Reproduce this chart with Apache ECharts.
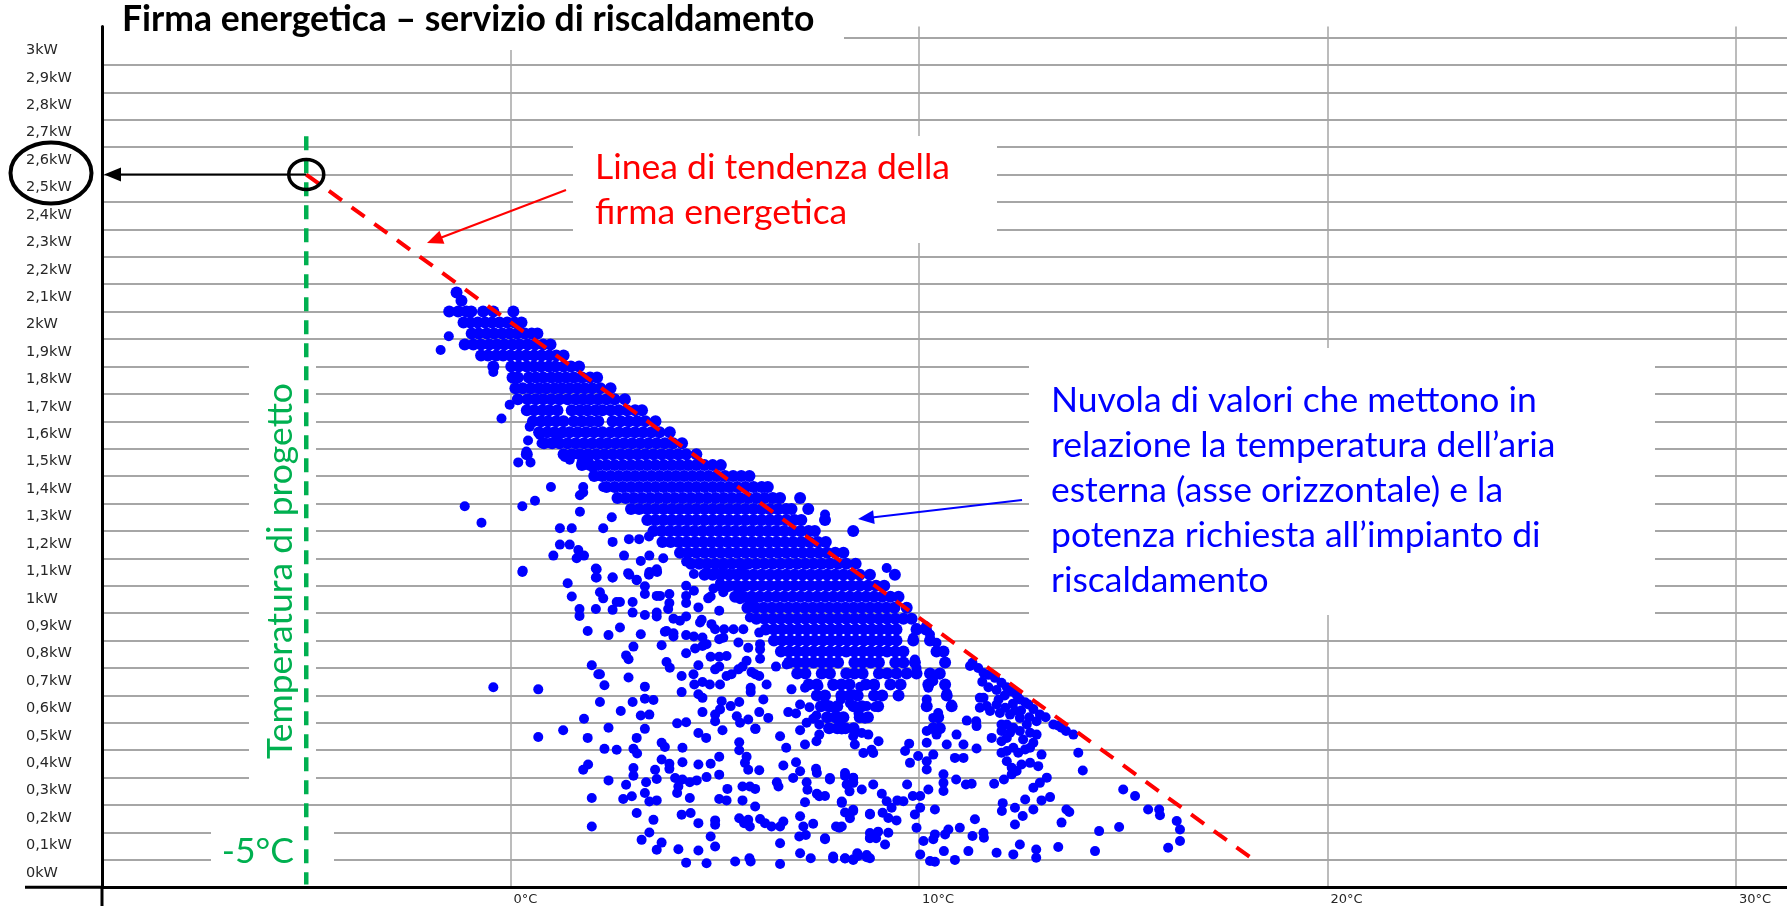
<!DOCTYPE html>
<html>
<head>
<meta charset="utf-8">
<title>Firma energetica – servizio di riscaldamento</title>
<script src="https://cdn.jsdelivr.net/npm/echarts@6/dist/echarts.min.js"></script>
<style>
  html, body { margin: 0; padding: 0; background: #fff; }
  #chart { width: 1787px; height: 906px; }
</style>
</head>
<body>
<div id="chart"></div>
<script>
// ---- tick labels ----
const powerTickLabels = ['0kW', '0,1kW', '0,2kW', '0,3kW', '0,4kW', '0,5kW', '0,6kW', '0,7kW', '0,8kW', '0,9kW',
  '1kW', '1,1kW', '1,2kW', '1,3kW', '1,4kW', '1,5kW', '1,6kW', '1,7kW', '1,8kW', '1,9kW',
  '2kW', '2,1kW', '2,2kW', '2,3kW', '2,4kW', '2,5kW', '2,6kW', '2,7kW', '2,8kW', '2,9kW', '3kW'];
const tempTickValues = [0, 10, 20, 30];
const tempTickLabels = ['0°C', '10°C', '20°C', '30°C'];

// ---- reference lines (temperature °C, power kW) ----
const trendLine = [[-5, 2.5], [18.2, 0.0]];
const designTempLine = [[-5, 2.64], [-5, -0.09]];
const designPoint = [-5, 2.5];

// ---- measured points: dense band, one row per power level [kW, temperatures] ----
const bandRows = [
  [2.07, [-1.32]],
  [2.04, [-1.2]],
  [2.00, [-1.5, -1.28, -1.08, -0.96, -0.67, -0.42, 0.07]],
  [1.96, [-1.15, -0.98, -0.8, -0.62, -0.45, -0.27, -0.08, 0.1, 0.27]],
  [1.92, [-0.95, -0.78, -0.58, -0.4, -0.2, -0.02, 0.16, 0.35, 0.52, 0.66]],
  [1.88, [-1.12, -0.91, -0.72, -0.52, -0.33, -0.15, 0.05, 0.22, 0.42, 0.6, 0.8, 0.98]],
  [1.84, [-0.72, -0.55, -0.35, -0.18, 0.0, 0.2, 0.38, 0.58, 0.76, 0.95, 1.12, 1.3]],
  [1.80, [-0.42, 0.02, 0.2, 0.4, 0.57, 0.75, 0.94, 1.1, 1.3, 1.48, 1.68]],
  [1.76, [0.05, 0.18, 0.45, 0.62, 0.8, 1.0, 1.18, 1.36, 1.55, 1.75, 1.95, 2.12]],
  [1.72, [0.12, 0.3, 0.5, 0.7, 0.88, 1.08, 1.26, 1.45, 1.64, 1.82, 2.0, 2.2, 2.45]],
  [1.68, [0.18, 0.42, 0.62, 0.8, 1.0, 1.2, 1.4, 1.6, 1.78, 1.96, 2.15, 2.35, 2.55, 2.8]],
  [1.64, [0.4, 0.58, 0.78, 0.95, 1.15, 1.5, 1.7, 1.88, 2.08, 2.25, 2.45, 2.65, 2.85, 3.05, 3.22]],
  [1.60, [0.55, 0.75, 0.92, 1.12, 1.3, 1.55, 1.75, 1.95, 2.15, 2.5, 2.7, 2.9, 3.1, 3.3, 3.55]],
  [1.56, [0.7, 0.9, 1.08, 1.28, 1.45, 1.65, 1.85, 2.05, 2.25, 2.45, 2.65, 2.85, 3.05, 3.25, 3.45, 3.65, 3.9]],
  [1.52, [0.82, 1.02, 1.2, 1.4, 1.6, 1.8, 2.0, 2.2, 2.38, 2.58, 2.78, 2.98, 3.18, 3.38, 3.58, 3.78, 3.98, 4.2]],
  [1.48, [0.4, 1.3, 1.5, 1.7, 1.9, 2.1, 2.3, 2.5, 2.7, 2.9, 3.1, 3.3, 3.5, 3.7, 3.9, 4.1, 4.3, 4.55]],
  [1.44, [1.75, 1.95, 2.15, 2.35, 2.55, 2.75, 2.95, 3.15, 3.35, 3.55, 3.75, 3.95, 4.15, 4.35, 4.55, 4.75, 4.95, 5.15]],
  [1.40, [2.05, 2.25, 2.45, 2.65, 2.85, 3.05, 3.25, 3.45, 3.65, 3.85, 4.05, 4.25, 4.45, 4.65, 4.85, 5.05, 5.25, 5.45, 5.65, 5.85]],
  [1.36, [2.35, 2.55, 2.75, 2.95, 3.15, 3.35, 3.55, 3.75, 3.95, 4.15, 4.35, 4.55, 4.75, 4.95, 5.15, 5.35, 5.55, 5.75, 5.95, 6.15, 6.3]],
  [1.32, [2.62, 2.82, 3.02, 3.22, 3.42, 3.62, 3.82, 4.02, 4.22, 4.42, 4.62, 4.82, 5.02, 5.22, 5.42, 5.62, 5.82, 6.02, 6.22, 6.42, 6.6, 7.09]],
  [1.28, [2.95, 3.15, 3.35, 3.55, 3.75, 3.95, 4.15, 4.35, 4.55, 4.75, 4.95, 5.15, 5.35, 5.55, 5.75, 5.95, 6.15, 6.35, 6.55, 6.75, 6.88, 7.29]],
  [1.24, [3.35, 3.55, 3.75, 3.95, 4.15, 4.35, 4.55, 4.75, 4.95, 5.15, 5.35, 5.55, 5.75, 5.95, 6.15, 6.35, 6.55, 6.75, 6.95, 7.12, 7.7]],
  [1.20, [3.5, 3.7, 3.9, 4.1, 4.3, 4.5, 4.7, 4.9, 5.1, 5.3, 5.5, 5.7, 5.9, 6.1, 6.3, 6.5, 6.7, 6.9, 7.1, 7.3, 7.45, 8.39]],
  [1.16, [3.72, 3.92, 4.12, 4.32, 4.52, 4.72, 4.92, 5.12, 5.32, 5.52, 5.72, 5.92, 6.12, 6.32, 6.52, 6.72, 6.92, 7.12, 7.32, 7.52, 7.72]],
  [1.12, [4.15, 4.35, 4.55, 4.75, 4.95, 5.15, 5.35, 5.55, 5.75, 5.95, 6.15, 6.35, 6.55, 6.75, 6.95, 7.15, 7.35, 7.55, 7.75, 7.95, 8.15]],
  [1.08, [4.42, 4.62, 4.82, 5.02, 5.22, 5.42, 5.62, 5.82, 6.02, 6.22, 6.42, 6.62, 6.82, 7.02, 7.22, 7.42, 7.62, 7.82, 8.02, 8.22, 8.45]],
  [1.04, [4.75, 4.95, 5.15, 5.35, 5.55, 5.75, 5.95, 6.15, 6.35, 6.55, 6.75, 6.95, 7.15, 7.35, 7.55, 7.75, 7.95, 8.15, 8.35, 8.55, 8.8, 9.41]],
  [1.00, [5.15, 5.35, 5.55, 5.75, 5.95, 6.15, 6.35, 6.55, 6.75, 6.95, 7.15, 7.35, 7.55, 7.75, 7.95, 8.15, 8.35, 8.55, 8.75, 8.95, 9.15]],
  [0.96, [5.5, 5.7, 5.9, 6.1, 6.3, 6.5, 6.7, 6.9, 7.1, 7.3, 7.5, 7.7, 7.9, 8.1, 8.3, 8.5, 8.7, 8.9, 9.1, 9.3, 9.5]],
  [0.92, [5.8, 6.0, 6.2, 6.4, 6.6, 6.8, 7.0, 7.2, 7.4, 7.6, 7.8, 8.0, 8.2, 8.4, 8.6, 8.8, 9.0, 9.2, 9.4, 9.7]],
  [0.88, [6.02, 6.22, 6.42, 6.62, 6.82, 7.02, 7.22, 7.42, 7.62, 7.82, 8.02, 8.22, 8.42, 8.62, 8.82, 9.02, 9.22, 9.42, 9.62, 9.82]],
  [0.84, [6.25, 6.45, 6.65, 6.85, 7.05, 7.25, 7.45, 7.65, 7.85, 8.05, 8.25, 8.45, 8.65, 8.85, 9.05, 9.25, 9.45, 9.94, 10.17]],
  [0.80, [6.45, 6.65, 6.85, 7.05, 7.25, 7.45, 7.65, 7.85, 8.05, 8.25, 8.45, 8.65, 8.85, 9.05, 9.25, 9.45, 9.86, 10.27]],
  [0.76, [6.62, 6.82, 7.02, 7.22, 7.42, 7.62, 7.82, 8.02, 8.22, 8.42, 8.62, 8.82, 9.02, 9.22, 9.42, 9.62, 10.43, 10.6]],
  [0.72, [6.82, 7.02, 7.22, 7.42, 7.62, 7.82, 8.02, 8.42, 8.62, 8.82, 9.02, 9.42, 9.62, 9.9, 10.64]],
  [0.68, [7.02, 7.22, 7.62, 7.82, 8.22, 8.42, 8.62, 9.02, 9.22, 9.45, 9.7, 9.94, 10.27, 10.51]],
  [0.64, [7.3, 7.5, 7.9, 8.1, 8.3, 8.7, 8.9, 9.3, 9.55, 10.23, 10.64]],
  [0.60, [7.5, 7.7, 8.1, 8.3, 8.5, 8.9, 9.1, 9.5, 10.68]],
  [0.56, [7.6, 7.8, 8.0, 8.4, 8.6, 9.0, 10.19, 10.8]],
  [0.52, [7.75, 7.95, 8.15, 8.55, 8.75, 10.47]],
  [0.48, [7.8, 8.0, 8.2, 8.4, 10.35, 10.51]]
];

// ---- measured points: scattered values, [temperature, kW] ----
const cloudCold = [
  [-1.51, 1.91], [-1.71, 1.86], [-0.42, 1.78], [-0.22, 1.61], [-0.02, 1.66], [-1.12, 1.29], [-0.71, 1.23],
  [0.29, 1.29], [0.6, 1.31], [0.99, 1.36], [0.19, 1.45], [0.49, 1.45], [0.39, 1.49], [0.29, 1.05], [-0.42, 0.63],
  [1.7, 1.27], [1.21, 1.21], [1.5, 1.21], [1.05, 1.11], [1.21, 1.15], [1.45, 1.15], [1.66, 1.13], [1.62, 1.10],
  [1.8, 1.11], [2.11, 1.06], [2.11, 1.03], [2.5, 1.16], [2.5, 1.03], [2.78, 1.11], [2.9, 1.17], [3.09, 1.02],
  [3.19, 1.09], [3.4, 1.11], [3.59, 1.05], [3.74, 1.10], [3.39, 1.18], [3.15, 1.17], [3.39, 1.04], [2.91, 1.04],
  [2.48, 1.25], [2.27, 1.21], [2.19, 1.40], [2.27, 1.36], [1.78, 1.36], [1.78, 1.34], [1.7, 1.33], [0.47, 1.58],
  [0.72, 1.55], [0.43, 1.53], [0.76, 1.52], [1.13, 1.54], [1.45, 1.46], [1.33, 1.47], [1.62, 1.48], [1.74, 1.45],
  [1.9, 1.46], [2.02, 1.43], [0.92, 1.52]
];

const cloudMild = [
  [0.30, 1.055], [2.09, 1.063], [2.09, 1.03], [2.50, 1.03], [2.88, 1.046], [3.09, 1.022], [3.40, 1.05], [3.58, 1.06],
  [1.40, 1.009], [4.30, 1.088], [4.49, 1.043], [4.80, 1.05], [5.01, 1.05], [5.21, 1.07], [5.46, 1.043], [5.66, 1.07],
  [1.50, 0.961], [2.19, 0.976], [2.27, 0.954], [2.60, 0.941], [2.68, 0.941], [2.99, 0.941], [3.29, 0.998], [3.29, 0.97],
  [3.58, 0.963], [3.66, 0.963], [3.89, 0.97], [3.89, 0.937], [4.30, 1.0], [4.30, 0.963], [4.30, 0.937], [4.49, 0.982],
  [4.84, 0.954], [4.90, 0.961], [4.60, 0.921], [4.97, 0.99], [5.13, 1.01], [5.21, 0.976], [5.29, 0.994], [5.46, 1.0],
  [5.58, 0.99], [5.62, 0.951], [5.82, 0.951], [5.82, 0.921], [5.11, 0.909], [1.69, 0.915], [1.69, 0.89], [2.09, 0.915],
  [2.50, 0.912], [2.99, 0.902], [3.29, 0.893], [3.58, 0.902], [3.58, 0.888], [3.86, 0.915], [3.99, 0.88], [4.15, 0.872],
  [4.30, 0.888], [4.68, 0.876], [4.64, 0.866], [4.92, 0.86], [5.01, 0.841], [5.23, 0.841], [5.21, 0.81], [5.11, 0.805],
  [5.46, 0.841], [5.70, 0.841], [5.86, 0.884], [5.94, 0.933],
  [1.89, 0.835], [2.40, 0.82], [2.68, 0.848], [3.19, 0.823], [3.78, 0.832], [3.99, 0.827], [3.99, 0.815], [4.30, 0.82],
  [4.49, 0.815], [4.70, 0.811], [4.70, 0.78], [4.80, 0.787], [4.52, 0.771], [4.30, 0.754], [3.82, 0.835], [3.70, 0.783],
  [3.01, 0.778], [2.83, 0.746], [2.89, 0.732], [5.58, 0.793], [5.82, 0.774], [6.11, 0.768], [6.09, 0.829], [6.11, 0.787],
  [1.99, 0.71], [2.15, 0.677], [2.19, 0.677], [2.30, 0.637], [2.89, 0.665], [3.29, 0.632], [3.82, 0.722], [3.90, 0.701],
  [4.19, 0.671], [4.48, 0.677], [4.60, 0.71], [4.70, 0.649], [4.90, 0.741], [5.11, 0.741], [5.29, 0.744], [5.11, 0.705],
  [5.01, 0.695], [5.29, 0.671], [5.41, 0.677], [5.58, 0.695], [5.68, 0.705], [5.78, 0.726], [5.90, 0.685], [5.99, 0.677],
  [6.09, 0.671], [6.27, 0.64], [5.88, 0.628], [5.88, 0.612], [5.13, 0.64], [4.88, 0.64], [4.50, 0.64], [6.11, 0.734],
  [6.50, 0.705], [6.76, 0.713],
  [0.68, 0.622], [2.19, 0.576], [2.99, 0.576], [3.29, 0.588], [3.50, 0.583], [4.19, 0.612], [4.60, 0.604], [4.70, 0.591],
  [4.70, 0.539], [5.17, 0.579], [5.39, 0.561], [5.60, 0.576], [5.13, 0.549], [5.01, 0.53], [5.01, 0.506], [5.54, 0.524],
  [5.62, 0.5], [5.82, 0.512], [6.00, 0.478], [6.09, 0.539], [6.19, 0.585], [6.31, 0.518], [6.88, 0.622], [7.21, 0.628],
  [6.80, 0.539], [6.99, 0.534], [7.09, 0.567], [7.32, 0.557], [7.25, 0.5], [7.41, 0.515], [7.49, 0.527], [7.56, 0.494],
  [7.70, 0.571], [7.90, 0.555], [8.00, 0.524], [8.07, 0.5], [8.11, 0.476], [8.09, 0.585], [8.31, 0.571], [8.39, 0.604],
  [8.52, 0.534], [8.72, 0.561], [8.68, 0.515], [8.92, 0.558], [8.92, 0.634], [8.56, 0.632], [7.90, 0.634], [7.54, 0.634],
  [1.80, 0.515], [1.29, 0.473], [0.68, 0.448], [1.89, 0.445], [2.40, 0.482], [2.70, 0.543], [3.19, 0.527], [3.40, 0.53],
  [3.29, 0.478], [3.09, 0.445], [4.08, 0.498], [4.30, 0.502], [4.60, 0.463], [4.79, 0.445], [5.19, 0.473], [5.60, 0.429],
  [5.60, 0.4], [5.99, 0.478], [6.60, 0.451], [6.75, 0.409], [7.09, 0.473], [7.21, 0.421], [7.49, 0.433], [7.56, 0.457],
  [8.39, 0.451], [8.43, 0.421], [8.60, 0.463], [8.76, 0.457], [8.84, 0.402], [8.88, 0.39], [9.01, 0.433], [8.64, 0.39],
  [2.30, 0.405], [2.60, 0.402], [3.01, 0.405], [3.10, 0.388], [3.70, 0.427], [3.78, 0.412], [4.21, 0.409], [5.11, 0.376],
  [5.78, 0.376], [5.74, 0.354], [5.82, 0.329], [6.09, 0.327], [6.68, 0.344], [6.99, 0.356], [7.09, 0.323], [7.48, 0.332],
  [7.50, 0.317], [8.19, 0.317], [8.39, 0.299], [8.39, 0.283],
  [1.78, 0.329], [1.90, 0.348], [2.40, 0.29], [2.83, 0.274], [3.01, 0.335], [3.01, 0.307], [3.32, 0.283], [3.58, 0.295],
  [3.70, 0.366], [3.54, 0.329], [3.89, 0.351], [3.89, 0.332], [4.03, 0.299], [4.21, 0.356], [4.21, 0.293], [4.11, 0.268],
  [4.39, 0.283], [4.56, 0.29], [4.60, 0.348], [4.80, 0.302], [4.90, 0.351], [5.11, 0.311], [5.31, 0.259], [5.68, 0.268],
  [5.86, 0.268], [5.99, 0.259], [6.52, 0.283], [6.56, 0.268], [6.92, 0.299], [7.25, 0.283], [7.27, 0.256], [7.50, 0.241],
  [7.56, 0.232], [7.82, 0.299],
  [1.99, 0.226], [2.76, 0.222], [2.97, 0.232], [3.29, 0.244], [3.40, 0.213], [3.58, 0.217], [4.08, 0.244], [4.39, 0.226],
  [5.11, 0.222], [5.29, 0.217], [5.68, 0.217], [5.99, 0.195], [7.21, 0.21], [8.11, 0.213], [8.30, 0.25],
  [1.99, 0.122], [3.09, 0.171], [3.50, 0.146], [4.19, 0.165], [4.41, 0.171], [4.60, 0.134], [5.01, 0.144], [5.01, 0.128],
  [5.60, 0.152], [5.72, 0.134], [5.82, 0.146], [5.86, 0.122], [6.11, 0.149], [6.23, 0.134], [6.39, 0.122], [6.60, 0.122],
  [6.68, 0.14], [7.09, 0.159], [7.17, 0.122], [7.07, 0.085], [7.23, 0.091], [7.41, 0.132], [7.97, 0.122], [8.11, 0.122],
  [8.19, 0.173], [8.31, 0.152], [8.39, 0.183], [8.80, 0.168], [8.80, 0.098], [8.80, 0.079],
  [3.40, 0.1], [3.21, 0.073], [3.70, 0.063], [3.58, 0.037], [4.11, 0.039], [4.60, 0.034], [4.30, -0.01], [4.80, -0.012],
  [4.90, 0.085], [5.01, 0.049], [5.50, -0.006], [5.85, 0.006], [5.88, -0.006], [6.60, 0.061], [6.60, -0.015], [7.09, 0.024],
  [7.35, 0.006], [7.70, 0.079], [7.90, 0.012], [8.19, 0.006], [8.39, 0.002], [8.49, 0.024], [8.72, 0.018], [8.80, 0.006],
  [8.95, 0.079]
];

const cloudWarm = [
  [7.70, 1.26], [9.21, 1.065], [9.70, 0.922], [9.94, 0.846], [9.86, 0.81], [10.6, 0.759], [10.43, 0.792], [10.27, 0.822],
  [10.17, 0.852], [11.25, 0.707], [11.31, 0.719], [11.58, 0.682], [11.86, 0.664], [12.02, 0.646], [12.29, 0.613],
  [12.47, 0.585], [12.68, 0.567], [12.96, 0.53], [13.29, 0.494], [13.49, 0.482], [13.78, 0.457], [13.90, 0.391],
  [14.01, 0.326], [15.0, 0.257], [15.29, 0.233], [15.61, 0.184], [15.88, 0.184], [15.90, 0.163], [16.31, 0.142],
  [16.39, 0.111], [16.39, 0.069], [16.10, 0.044], [14.90, 0.12], [14.41, 0.105], [14.31, 0.032], [13.41, 0.047],
  [13.49, 0.136], [13.61, 0.184], [13.68, 0.175], [13.21, 0.229], [13.00, 0.217], [13.13, 0.30], [12.96, 0.281],
  [12.80, 0.263], [12.80, 0.184], [12.60, 0.22], [12.54, 0.16], [12.35, 0.19], [12.35, 0.129], [12.47, 0.056],
  [12.31, 0.02], [12.87, 0.038], [12.87, 0.008], [12.05, 0.207], [12.03, 0.178], [11.84, 0.278], [12.08, 0.293],
  [11.90, 0.026], [11.59, 0.081], [11.58, 0.099], [11.37, 0.148], [11.31, 0.087], [11.21, 0.032], [11.00, 0.117],
  [10.88, 0.0], [10.72, 0.111], [10.64, 0.093], [10.61, 0.032], [10.39, 0.093], [10.35, 0.075], [10.11, 0.069],
  [10.03, 0.02], [10.27, -0.004], [10.39, -0.007], [9.94, 0.117], [9.90, 0.166], [10.03, 0.19], [10.39, 0.184],
  [10.91, 0.293], [11.15, 0.275], [11.29, 0.278], [10.60, 0.312], [10.60, 0.281], [10.60, 0.251], [10.23, 0.257],
  [10.03, 0.233], [9.85, 0.233], [9.71, 0.275], [9.62, 0.214], [9.47, 0.217], [9.33, 0.19], [9.21, 0.214], [9.09, 0.241],
  [9.25, 0.153], [9.45, 0.144], [9.25, 0.099], [9.17, 0.056], [9.00, 0.103], [8.80, 0.166], [8.80, 0.081], [8.60, 0.257],
  [8.39, 0.30], [8.39, 0.281], [8.23, 0.275], [8.19, 0.306], [8.30, 0.166], [8.39, 0.178], [8.11, 0.208], [8.05, 0.117],
  [7.90, 0.005], [8.19, 0.005], [8.39, 0.0], [8.51, 0.014], [8.72, 0.01], [7.70, 0.075], [7.70, 0.233], [7.82, 0.293],
  [8.88, 0.275], [9.11, 0.172],
  [9.66, 0.397], [9.76, 0.424], [9.78, 0.354], [9.98, 0.379], [10.19, 0.36], [10.19, 0.47], [10.19, 0.427], [10.19, 0.33],
  [10.35, 0.384], [10.43, 0.457], [10.51, 0.482], [10.68, 0.421], [10.88, 0.372], [11.09, 0.372], [11.09, 0.421],
  [10.92, 0.457], [10.80, 0.567], [10.47, 0.536], [10.35, 0.518], [10.19, 0.585], [10.23, 0.628], [10.35, 0.652],
  [10.27, 0.676], [10.51, 0.676], [10.64, 0.634], [10.68, 0.609], [9.94, 0.70], [9.90, 0.731],
  [11.40, 0.506], [11.41, 0.406], [11.78, 0.445], [11.17, 0.508], [11.49, 0.591], [11.66, 0.561], [11.74, 0.543],
  [11.90, 0.567], [11.98, 0.536], [12.11, 0.555], [12.15, 0.494], [12.02, 0.47], [12.23, 0.464], [12.31, 0.482],
  [12.47, 0.47], [12.55, 0.439], [12.72, 0.464], [12.80, 0.427], [12.88, 0.457], [12.64, 0.494], [12.47, 0.518],
  [12.23, 0.53], [12.02, 0.494], [12.02, 0.433], [12.02, 0.391], [12.15, 0.397], [12.31, 0.409], [12.43, 0.391],
  [12.60, 0.403], [12.72, 0.409], [12.15, 0.36], [12.27, 0.336], [12.39, 0.324], [12.51, 0.348], [12.72, 0.354],
  [13.00, 0.384], [12.92, 0.342], [12.27, 0.312], [12.15, 0.445], [12.88, 0.506], [11.58, 0.591], [11.49, 0.555],
  [11.41, 0.488],
  [11.45, 0.70], [11.7, 0.675], [12.15, 0.63], [12.4, 0.60], [12.6, 0.575], [12.8, 0.55], [13.1, 0.52], [13.4, 0.49],
  [13.6, 0.47], [11.9, 0.62], [12.1, 0.60], [12.3, 0.57], [12.5, 0.545], [12.7, 0.52], [11.7, 0.63], [11.55, 0.65],
  [11.95, 0.585], [12.35, 0.545]
];

// ---- styling ----
const BLUE = '#0000ff';
const RED = '#ff0000';
const GREEN = '#00b050';
const GRID_GREY = '#a6a6a6';
const LABEL_FONT = 'DejaVu Sans';
const NOTE_FONT = 'Lato';
const NOTE_SIZE = 35.5;

const bandData = [];
bandRows.forEach(([kw, temps]) => temps.forEach(t => bandData.push([t, kw])));
const cloudData = [...cloudCold, ...cloudMild, ...cloudWarm];

function powerLabel(v) {
  const i = Math.round(v * 10);
  if (Math.abs(v * 10 - i) > 1e-6 || i < 0 || i >= powerTickLabels.length) return '';
  return powerTickLabels[i];
}
function tempLabel(v) {
  const i = tempTickValues.indexOf(Math.round(v * 100) / 100);
  return i >= 0 ? tempTickLabels[i] : '';
}

const chart = echarts.init(document.getElementById('chart'), null, { renderer: 'canvas' });

chart.setOption({
  animation: false,
  backgroundColor: '#ffffff',
  grid: { left: 102, right: 0, top: 26.5, bottom: 18.7, containLabel: false, outerBoundsMode: 'none' },
  xAxis: {
    type: 'value', min: -10, max: 31.25, interval: 10,
    axisLine: { show: true, onZero: false, lineStyle: { color: '#000', width: 3 } },
    axisTick: { show: false },
    splitLine: { show: true, showMinLine: false, showMaxLine: false, lineStyle: { color: GRID_GREY, width: 1.5 } },
    axisLabel: {
      formatter: tempLabel, align: 'left', margin: 6, padding: [0, 0, 0, 3],
      color: '#262626', fontFamily: LABEL_FONT, fontSize: 13
    }
  },
  yAxis: {
    type: 'value', min: -0.1, max: 3.04, interval: 0.1,
    axisLine: { show: true, onZero: false, lineStyle: { color: '#000', width: 3 } },
    axisTick: { show: false },
    splitLine: { show: true, showMinLine: false, showMaxLine: false, lineStyle: { color: GRID_GREY, width: 2 } },
    axisLabel: {
      formatter: powerLabel, align: 'left', margin: 76, verticalAlign: 'top', padding: [5.5, 0, 0, 0],
      color: '#262626', fontFamily: LABEL_FONT, fontSize: 14.5
    }
  },
  series: [
    {
      name: 'misure fitte', type: 'scatter', data: bandData, symbol: 'circle', symbolSize: 12,
      itemStyle: { color: BLUE, opacity: 1 }, silent: true, z: 3
    },
    {
      name: 'misure', type: 'scatter', data: cloudData, symbol: 'circle', symbolSize: 10,
      itemStyle: { color: BLUE, opacity: 1 }, silent: true, z: 3
    },
    {
      name: 'tendenza', type: 'line', data: trendLine, symbol: 'none', silent: true, z: 5,
      lineStyle: { color: RED, width: 4, type: [16, 12] }
    },
    {
      name: 'progetto', type: 'line', data: designTempLine, symbol: 'none', silent: true, z: 5,
      lineStyle: { color: GREEN, width: 4.5, type: [14, 9] }
    }
  ]
});

// ---- annotations ----
function arrow(x1, y1, x2, y2, color, width, headLen, headHalf) {
  const dx = x2 - x1, dy = y2 - y1, len = Math.hypot(dx, dy);
  const ux = dx / len, uy = dy / len;
  const bx = x2 - ux * headLen, by = y2 - uy * headLen;
  return [
    { type: 'line', z: 20, shape: { x1: x1, y1: y1, x2: bx + ux * 2, y2: by + uy * 2 },
      style: { stroke: color, lineWidth: width } },
    { type: 'polygon', z: 20,
      shape: { points: [[x2, y2], [bx - uy * headHalf, by + ux * headHalf], [bx + uy * headHalf, by - ux * headHalf]] },
      style: { fill: color } }
  ];
}
function box(x, y, w, h) {
  return { type: 'rect', z: 1, shape: { x: x, y: y, width: w, height: h }, style: { fill: '#ffffff' } };
}
function note(x, y, text, color, opts) {
  return Object.assign({
    type: 'text', z: 20, x: x, y: y,
    style: Object.assign({
      text: text, fill: color, fontFamily: NOTE_FONT, fontSize: NOTE_SIZE, lineHeight: 45,
      align: 'left', verticalAlign: 'middle'
    }, (opts && opts.style) || {})
  }, (opts && opts.el) || {});
}

const origin = chart.convertToPixel({ gridIndex: 0 }, [-10, -0.1]);
const design = chart.convertToPixel({ gridIndex: 0 }, designPoint);

const elements = [
  // white backgrounds behind the notes
  box(104, 0, 740, 50),
  box(573, 136, 424, 107),
  box(1029, 348, 626, 267),
  box(249, 362, 67, 428),
  box(211, 812, 123, 62),
  // axis lines continued past the crossing
  { type: 'line', z: 6, shape: { x1: origin[0], y1: origin[1], x2: origin[0], y2: 906 }, style: { stroke: '#000', lineWidth: 3 } },
  { type: 'line', z: 6, shape: { x1: 25, y1: origin[1], x2: origin[0], y2: origin[1] }, style: { stroke: '#000', lineWidth: 3 } },
  // title
  note(122, 20, 'Firma energetica – servizio di riscaldamento', '#000',
    { style: { fontWeight: 'bold', fontSize: 35.5 } }),
  // trend line note
  note(595, 190, 'Linea di tendenza della\nfirma energetica', RED),
  ...arrow(566, 190, 427, 243, RED, 2, 16, 7),
  // cloud note
  note(1051, 490.5, 'Nuvola di valori che mettono in\nrelazione la temperatura dell’aria\nesterna (asse orizzontale) e la\npotenza richiesta all’impianto di\nriscaldamento', BLUE),
  ...arrow(1022, 500, 858, 519, BLUE, 2, 16, 7),
  // design temperature notes
  note(281, 571, 'Temperatura di progetto', GREEN,
    { style: { align: 'center' }, el: { rotation: Math.PI / 2 } }),
  note(294, 852, '-5°C', GREEN, { style: { align: 'right' } }),
  // design power read-out
  { type: 'ellipse', z: 20, shape: { cx: design[0], cy: design[1], rx: 17.5, ry: 15 },
    style: { fill: 'none', stroke: '#000', lineWidth: 3.5 } },
  ...arrow(design[0], design[1], origin[0] + 2, design[1], '#000', 2, 17, 7),
  { type: 'ellipse', z: 20, shape: { cx: 51, cy: design[1] - 1.5, rx: 40.5, ry: 30.5 },
    style: { fill: 'none', stroke: '#000', lineWidth: 4 } }
];

chart.setOption({ graphic: { elements: elements } });
</script>
</body>
</html>
